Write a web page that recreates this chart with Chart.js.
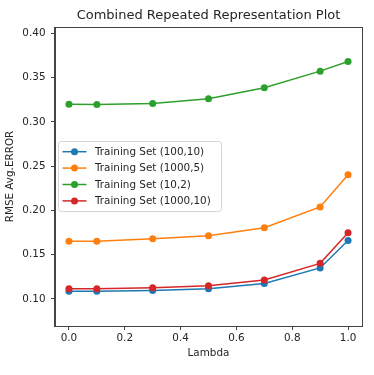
<!DOCTYPE html>
<html>
<head>
<meta charset="utf-8">
<script src="https://cdn.jsdelivr.net/npm/chart.js@4/dist/chart.umd.min.js"></script>
<style>
  html, body { margin: 0; padding: 0; background: #fff; }
  #wrap { width: 374px; height: 375px; }
</style>
</head>
<body>
<div id="wrap"><canvas id="plot" width="374" height="375"></canvas></div>
<script>
// lambda values on the x axis
const lambdas = [0, 0.1, 0.3, 0.5, 0.7, 0.9, 1.0]

const seriesNames = ["Training Set (100,10)", "Training Set (1000,5)", "Training Set (10,2)", "Training Set (1000,10)"]
const seriesColors = ["#1f77b4", "#ff7f0e", "#2ca02c", "#d62728"]

// RMSE
const set100x10 = [0.1087, 0.1087, 0.1094, 0.1114, 0.1174, 0.1349, 0.1659]
const set1000x5 = [0.1651, 0.1652, 0.1678, 0.1712, 0.1803, 0.2038, 0.2401]
const set10x2 = [0.3198, 0.3197, 0.3207, 0.3261, 0.3386, 0.3573, 0.3682]
const set1000x10 = [0.1113, 0.1114, 0.1125, 0.1148, 0.1213, 0.1401, 0.1747]

const xTicks = [0, 0.2, 0.4, 0.6, 0.8, 1.0]
const yTicks = [0.10, 0.15, 0.20, 0.25, 0.30, 0.35, 0.40]

const allSeries = [set100x10, set1000x5, set10x2, set1000x10]

const font = "'DejaVu Sans', sans-serif"
const ink = "#262626"
const textSize = 10.4

/*
 * frame, title and legend drawn like matplotlib
 */
const mplDecor = {
    id: "mplDecor",
    afterDatasetsDraw (chart) {
        const ctx = chart.ctx
        const a = chart.chartArea
        ctx.save()
        // box around the axes
        ctx.strokeStyle = "#444"
        ctx.lineWidth = 1
        ctx.strokeRect(Math.round(a.left) - 0.5, Math.round(a.top) + 0.5, Math.round(a.right - a.left) + 1, Math.round(a.bottom - a.top))

        // title
        ctx.fillStyle = ink
        ctx.font = "13px " + font
        ctx.textAlign = "center"
        ctx.textBaseline = "middle"
        ctx.fillText("Combined Repeated Representation Plot", (a.left + a.right) / 2, 16)

        // legend
        const lx = 58.5, ly = 141.5, lw = 163, lh = 70, r = 3
        ctx.beginPath()
        ctx.moveTo(lx + r, ly)
        ctx.arcTo(lx + lw, ly, lx + lw, ly + lh, r)
        ctx.arcTo(lx + lw, ly + lh, lx, ly + lh, r)
        ctx.arcTo(lx, ly + lh, lx, ly, r)
        ctx.arcTo(lx, ly, lx + lw, ly, r)
        ctx.closePath()
        ctx.fillStyle = "rgba(255,255,255,0.8)"
        ctx.fill()
        ctx.strokeStyle = "#d4d4d4"
        ctx.stroke()

        ctx.font = textSize + "px " + font
        ctx.textAlign = "left"
        seriesNames.forEach((name, i) => {
            const y = 151.7 + i * 16.4
            ctx.strokeStyle = seriesColors[i]
            ctx.lineWidth = 1.5
            ctx.beginPath()
            ctx.moveTo(62.5, y)
            ctx.lineTo(86.5, y)
            ctx.stroke()
            ctx.fillStyle = seriesColors[i]
            ctx.beginPath()
            ctx.arc(74.5, y, 3.5, 0, Math.PI * 2)
            ctx.fill()
            ctx.fillStyle = ink
            ctx.fillText(name, 95, y + 0.5)
        })
        ctx.restore()
    }
}

const datasets = seriesNames.map((name, i) => ({
    label: name,
    data: lambdas.map((x, j) => ({ x: x, y: allSeries[i][j] })),
    borderColor: seriesColors[i],
    backgroundColor: seriesColors[i],
    borderWidth: 1.5,
    pointRadius: 3.5,
    pointHoverRadius: 3.5,
    pointBorderWidth: 0,
    order: seriesNames.length - i,
}))

const tickStyle = { color: ink, font: { family: font, size: textSize } }

const config = {
    type: "line",
    data: { datasets: datasets },
    options: {
        responsive: false,
        animation: false,
        layout: { padding: { top: 27, right: 12, bottom: 0, left: 0 } },
        plugins: {
            legend: { display: false },
            title: { display: false },
            tooltip: { enabled: false },
        },
        scales: {
            x: {
                type: "linear",
                min: -0.05,
                max: 1.05,
                afterBuildTicks (scale) { scale.ticks = xTicks.map(v => ({ value: v })) },
                afterFit (scale) { scale.height = 49 },
                ticks: Object.assign({ padding: 2, maxRotation: 0, callback: v => v.toFixed(1) }, tickStyle),
                grid: { drawOnChartArea: false, drawTicks: true, tickLength: 4, color: "#444" },
                border: { display: true, color: "#444" },
                title: { display: true, text: "Lambda", color: ink, font: { family: font, size: textSize }, padding: { top: 0, bottom: 15 } },
            },
            y: {
                type: "linear",
                min: 0.0693,
                max: 0.4072,
                afterBuildTicks (scale) { scale.ticks = yTicks.map(v => ({ value: v })) },
                afterFit (scale) { scale.width = 55 },
                ticks: Object.assign({ padding: 5.5, callback: v => v.toFixed(2) }, tickStyle),
                grid: { drawOnChartArea: false, drawTicks: true, tickLength: 4, color: "#444" },
                border: { display: true, color: "#444" },
                title: { display: true, text: "RMSE Avg.ERROR", color: ink, font: { family: font, size: textSize }, padding: { top: 4, bottom: 0 } },
            },
        },
    },
    plugins: [mplDecor],
}

const chart = new Chart(document.getElementById("plot").getContext("2d"), config)
</script>
</body>
</html>
